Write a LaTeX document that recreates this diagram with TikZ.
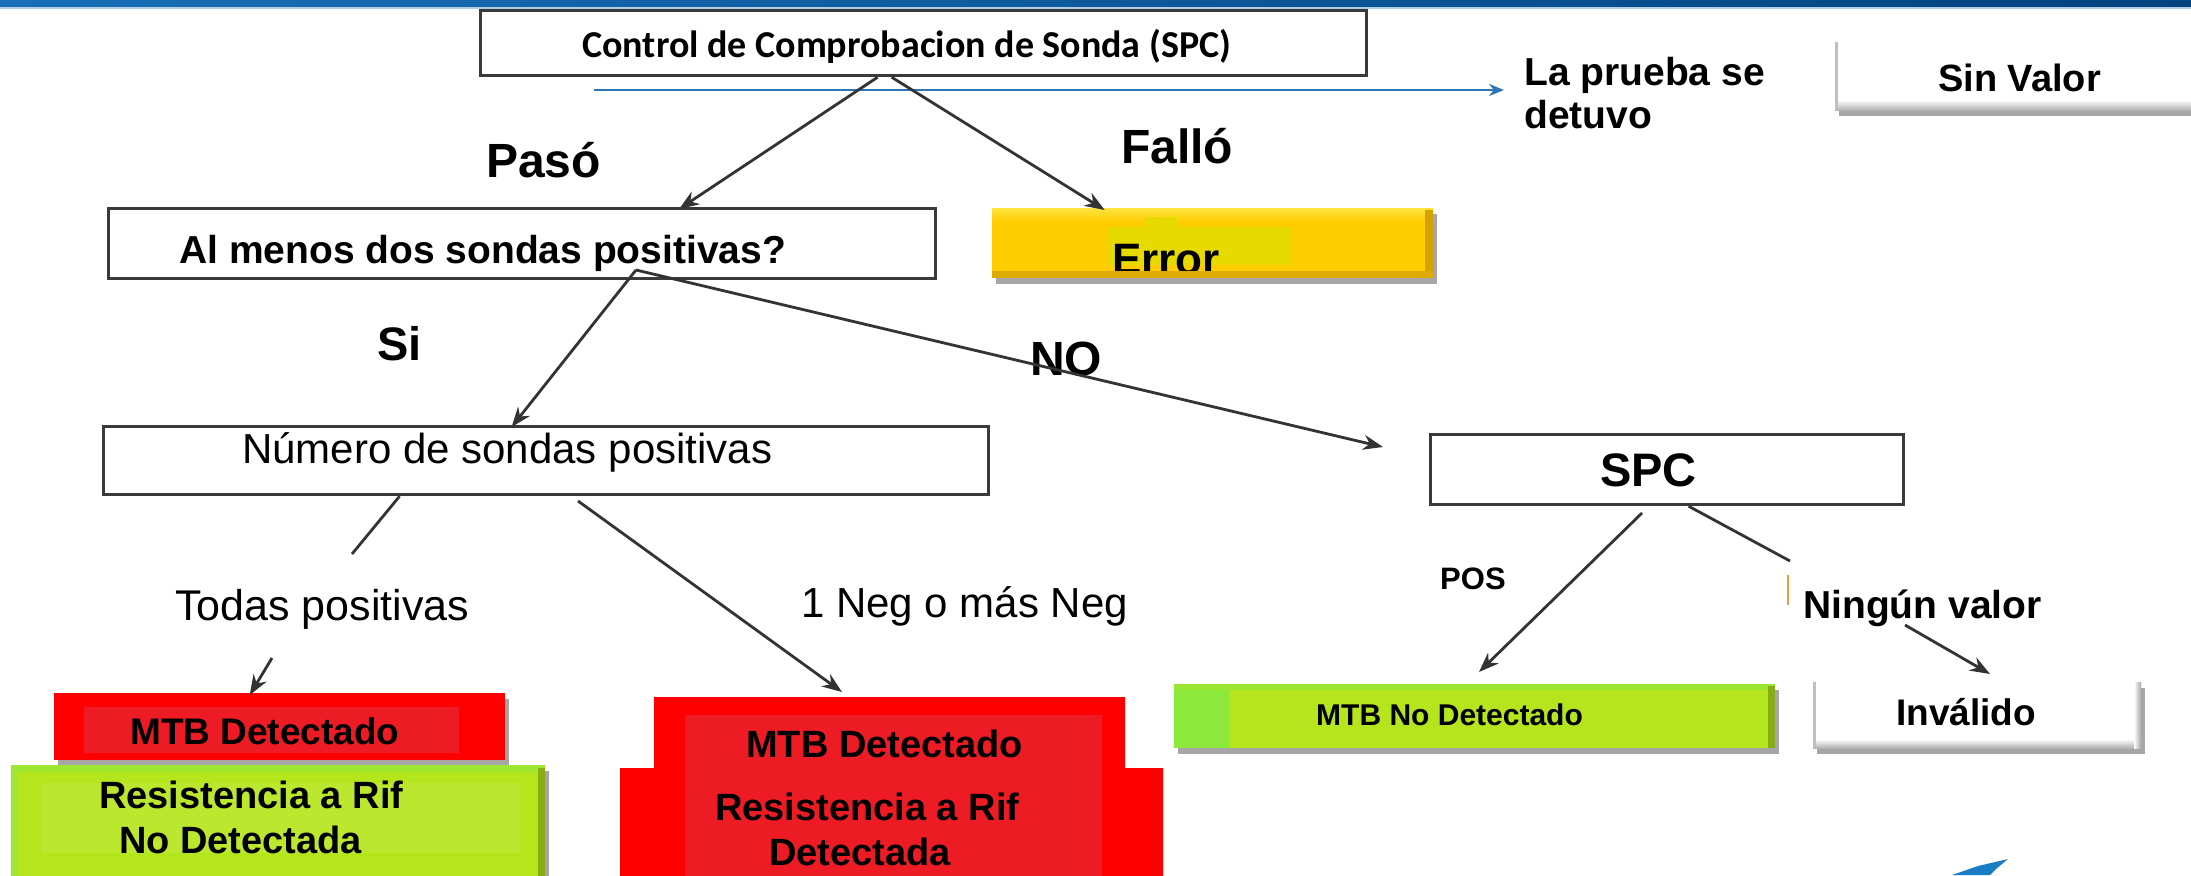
\documentclass[tikz,border=0pt]{standalone}
\usepackage{fontspec}
\setmainfont{Liberation Sans}
\newfontfamily\calib{Carlito}
\usetikzlibrary{arrows.meta,shadows}
\definecolor{boxgray}{HTML}{3A3A3A}
\definecolor{arrgray}{HTML}{333333}
\definecolor{bluearr}{HTML}{2E75B6}
\definecolor{barL}{HTML}{1A6FB8}
\definecolor{barR}{HTML}{00437F}
\definecolor{redout}{HTML}{FF0000}
\definecolor{redin}{HTML}{ED1C24}
\definecolor{greenmain}{HTML}{B5E61D}
\definecolor{greenlite}{HTML}{8DE83C}
\definecolor{yellowmain}{HTML}{FFCC00}
\definecolor{yellowtop}{HTML}{FFE440}
\definecolor{yellowin}{HTML}{E6DA00}
\definecolor{yellowdark}{HTML}{D4A300}
\definecolor{orangetick}{HTML}{E0A040}
\definecolor{swoosh}{HTML}{1A7DC4}
\tikzset{
  wbox/.style={draw=boxgray, line width=3.2pt, fill=white, inner sep=0pt, anchor=north west},
  btn/.style={inner sep=0pt, anchor=north west, drop shadow={shadow xshift=4pt, shadow yshift=-6pt, fill=black, opacity=.35}},
  arr/.style={draw=arrgray, line width=2.8pt, -{Stealth[length=20pt,width=15pt]}},
  ln/.style={draw=arrgray, line width=2.8pt},
  lblb/.style={inner sep=0pt, anchor=base west, font=\bfseries\fontsize{38}{42}\selectfont},
  lblr/.style={inner sep=0pt, anchor=base west, font=\fontsize{42}{46}\selectfont}
}
\begin{document}
\begin{tikzpicture}[x=1pt,y=-1pt]
\useasboundingbox (0,0) rectangle (2191,875);
\clip (0,0) rectangle (2191,875);
\fill[white] (0,0) rectangle (2191,875);
% top bar
\shade[left color=barL, right color=barR] (0,0) rectangle (2191,7);
\fill[barL!35] (0,7) rectangle (2191,9);

% boxes
\node[wbox, minimum width=886pt, minimum height=65pt] (top) at (479,9) {};
\node[wbox, minimum width=827pt, minimum height=70pt] (alm) at (107,207) {};
\node[wbox, minimum width=885pt, minimum height=68pt] (num) at (102,425) {};
\node[wbox, minimum width=473pt, minimum height=70pt] (spc) at (1429,433) {};

% Error button
\node[btn, fill=yellowmain, minimum width=441pt, minimum height=70pt] (err) at (992,208) {};
\shade[top color=yellowtop, bottom color=yellowmain] (992,208) rectangle (1433,222);
\fill[yellowdark] (1425,210) rectangle (1433,278);
\fill[yellowdark!80!yellowmain] (992,271) rectangle (1433,278);
\fill[yellowin] (1108,227) rectangle (1292,265);
\fill[yellowin] (1145,217) rectangle (1177,227);

% Sin Valor button
\node[btn, fill=white, minimum width=370pt, minimum height=68pt] (sinv) at (1835,42) {};
\shade[top color=white, bottom color=black!30] (1835,100) rectangle (2205,110);
\fill[black!25] (1835,42) rectangle (1838,110);

% Invalido button
\node[btn, fill=white, minimum width=328pt, minimum height=66pt] (inv) at (1813,682) {};
\shade[top color=white, bottom color=black!30] (1813,739) rectangle (2141,748);
\shade[left color=white, right color=black!35] (2134,682) rectangle (2141,748);
\fill[black!25] (1813,682) rectangle (1816,748);

% MTB No Detectado (green)
\node[btn, fill=greenmain, minimum width=601pt, minimum height=64pt] (mtbno) at (1174,684) {};
\fill[greenlite] (1174,684) rectangle (1229,748);
\fill[greenlite!70!greenmain] (1174,684) rectangle (1775,690);
\fill[greenmain!75!black] (1768,686) rectangle (1775,748);

% left red MTB Detectado
\node[btn, fill=redout, minimum width=451pt, minimum height=67pt] (mtbL) at (54,693) {};
\fill[redin] (84,707) rectangle (459,753);

% left green Resistencia
\node[btn, fill=greenmain, minimum width=534pt, minimum height=115pt] (resL) at (11,765) {};
\fill[greenlite!60!greenmain] (11,765) rectangle (545,772);
\fill[greenlite!60!greenmain] (11,765) rectangle (18,880);
\fill[greenmain!75!black] (538,768) rectangle (545,880);
\fill[greenmain!92!white] (42,783) rectangle (520,853);

% right red stepped block
\fill[redout] (654,697) -- (1125,697) -- (1125,768) -- (1163,768) -- (1163,880)
  -- (620,880) -- (620,768) -- (654,768) -- cycle;
\fill[redin] (685,715) rectangle (1102,880);

% texts
\node[inner sep=0pt, anchor=base west, font=\calib\bfseries\fontsize{38}{42}\selectfont] (ttop) at (582,57) {Control de Comprobacion de Sonda (SPC)};
\node[lblb, font=\bfseries\fontsize{39}{43}\selectfont] (lp1) at (1524,85) {La prueba se};
\node[lblb, font=\bfseries\fontsize{39}{43}\selectfont] (lp2) at (1524,128) {detuvo};
\node[lblb] (tsinv) at (1938,92) {Sin Valor};
\node[lblb, font=\bfseries\fontsize{48}{52}\selectfont] (paso) at (486,177) {Pasó};
\node[lblb, font=\bfseries\fontsize{48}{52}\selectfont] (fallo) at (1121,163) {Falló};
\node[lblb, font=\bfseries\fontsize{39}{43}\selectfont] (talm) at (179,263) {Al menos dos sondas positivas?};
\begin{scope}
\clip (992,208) rectangle (1433,270);
\node[lblb, font=\bfseries\fontsize{44}{48}\selectfont] (terr) at (1112,274) {Error};
\end{scope}
\node[lblb, font=\bfseries\fontsize{47}{51}\selectfont] (si) at (377,360) {Si};
\node[lblb, font=\bfseries\fontsize{48}{52}\selectfont] (no) at (1030,375) {NO};
\node[lblr] (tnum) at (242,463) {Número de sondas positivas};
\node[lblb, font=\bfseries\fontsize{47}{51}\selectfont] (tspc) at (1600,486) {SPC};
\node[lblr, font=\fontsize{43}{47}\selectfont] (todas) at (175,620) {Todas positivas};
\node[lblr] (neg) at (801,617) {1 Neg o más Neg};
\node[lblb, font=\bfseries\fontsize{31}{35}\selectfont] (pos) at (1440,589) {POS};
\node[lblb, font=\bfseries\fontsize{39}{43}\selectfont] (ning) at (1803,618) {Ningún valor};
\node[lblb, font=\bfseries\fontsize{37}{41}\selectfont] (tmtbL) at (130,744) {MTB Detectado};
\node[lblb] (tres1) at (99,808) {Resistencia a Rif};
\node[lblb] (tres2) at (119,853) {No Detectada};
\node[lblb] (tmtbR) at (746,757) {MTB Detectado};
\node[lblb] (tresR1) at (715,820) {Resistencia a Rif};
\node[lblb] (tresR2) at (769,865) {Detectada};
\node[lblb, font=\bfseries\fontsize{30}{34}\selectfont] (tmtbno) at (1316,725) {MTB No Detectado};
\node[lblb, font=\bfseries\fontsize{37}{41}\selectfont] (tinv) at (1896,725) {Inválido};

% coordinates for free ends
\coordinate (blueS) at (594,90);
\coordinate (blueE) at (1504,90);
\coordinate (fork) at (636,270);
\coordinate (noE) at (1383,447);
\coordinate (todasA) at (352,554);
\coordinate (todasB) at (272,658);
\coordinate (negS) at (578,501);
\coordinate (negE) at (842,692);
\coordinate (posS) at (1642,513);
\coordinate (posE) at (1479,672);
\coordinate (ningA) at (1790,561);
\coordinate (ningB) at (1905,625);
\coordinate (ningE) at (1990,674);

% connectors
\draw[draw=bluearr, line width=2.8pt, -{Stealth[length=15pt,width=12pt]}] (blueS) -- (blueE);
\draw[arr] ([xshift=-46pt]top.south) -- ([xshift=157pt,yshift=-2pt]alm.north);
\draw[arr] ([xshift=-32pt]top.south) -- ([xshift=-108pt,yshift=-2pt]err.north);
\draw[arr] (fork) -- ([xshift=-34.5pt,yshift=-2pt]num.north);
\draw[arr] (fork) -- (noE);
\draw[ln] ([xshift=-146.5pt]num.south) -- (todasA);
\draw[arr] (todasB) -- ([xshift=-30pt,yshift=-2pt]mtbL.north);
\draw[arr] (negS) -- (negE);
\draw[arr] (posS) -- (posE);
\draw[ln] ([xshift=21.5pt]spc.south) -- (ningA);
\draw[orangetick, line width=1.8pt] (1788,575) -- (1788,605);
\draw[arr] (ningB) -- (ningE);

% blue swoosh at bottom right
\fill[swoosh] (1952,875) -- (1978,866) -- (2008,859) -- (1996,869) -- (1990,875) -- cycle;
\end{tikzpicture}
\end{document}
